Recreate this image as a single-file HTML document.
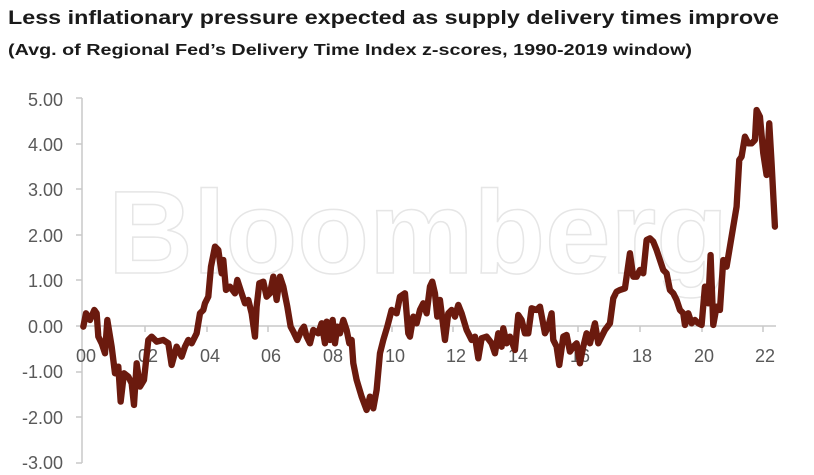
<!DOCTYPE html>
<html><head><meta charset="utf-8"><style>
body{margin:0;background:#fff;width:814px;height:475px;overflow:hidden}
svg{display:block}
text{font-family:"Liberation Sans",sans-serif}
</style></head><body>
<svg width="814" height="475" viewBox="0 0 814 475">
<text x="8" y="24" font-size="19" font-weight="bold" fill="#1a1a1a" textLength="771" lengthAdjust="spacingAndGlyphs">Less inflationary pressure expected as supply delivery times improve</text>
<text x="8" y="55" font-size="16" font-weight="bold" fill="#1a1a1a" textLength="684" lengthAdjust="spacingAndGlyphs">(Avg. of Regional Fed’s Delivery Time Index z-scores, 1990-2019 window)</text>
<text x="108" y="273" font-size="118" font-weight="bold" fill="#fff" stroke="#e6e6e6" stroke-width="1.5" textLength="620" lengthAdjust="spacingAndGlyphs">Bloomberg</text>
<g fill="#595959" font-size="18" text-anchor="end">
<text x="63" y="106">5.00</text><text x="63" y="151">4.00</text><text x="63" y="196">3.00</text><text x="63" y="242">2.00</text><text x="63" y="287">1.00</text><text x="63" y="333">0.00</text><text x="63" y="378">-1.00</text><text x="63" y="424">-2.00</text><text x="63" y="469">-3.00</text>
</g>
<g stroke="#c8c8c8" stroke-width="1.5">
<line x1="82" y1="98" x2="82" y2="463"/>
<line x1="76" y1="98" x2="82" y2="98"/><line x1="76" y1="144" x2="82" y2="144"/><line x1="76" y1="189" x2="82" y2="189"/><line x1="76" y1="235" x2="82" y2="235"/><line x1="76" y1="280" x2="82" y2="280"/><line x1="76" y1="326" x2="82" y2="326"/><line x1="76" y1="372" x2="82" y2="372"/><line x1="76" y1="417" x2="82" y2="417"/><line x1="76" y1="463" x2="82" y2="463"/>
<line x1="82" y1="326" x2="776" y2="326"/>
<line x1="145" y1="326" x2="145" y2="332"/><line x1="207" y1="326" x2="207" y2="332"/><line x1="268" y1="326" x2="268" y2="332"/><line x1="330" y1="326" x2="330" y2="332"/><line x1="392" y1="326" x2="392" y2="332"/><line x1="453" y1="326" x2="453" y2="332"/><line x1="515" y1="326" x2="515" y2="332"/><line x1="578" y1="326" x2="578" y2="332"/><line x1="640" y1="326" x2="640" y2="332"/><line x1="702" y1="326" x2="702" y2="332"/><line x1="763" y1="326" x2="763" y2="332"/>
</g>
<g fill="#595959" font-size="18" text-anchor="middle">
<text x="86" y="362">00</text><text x="148" y="362">02</text><text x="210" y="362">04</text><text x="271" y="362">06</text><text x="333" y="362">08</text><text x="395" y="362">10</text><text x="456" y="362">12</text><text x="518" y="362">14</text><text x="580" y="362">16</text><text x="642" y="362">18</text><text x="704" y="362">20</text><text x="765" y="362">22</text>
</g>
<g transform="translate(0,80) scale(0.3333)">
<polyline fill="none" stroke="#6b1a0e" stroke-width="19" stroke-linejoin="round" stroke-linecap="round" points="
250,740 258,700 270,720 283,690 290,700 295,770 305,790 315,820 322,720 335,800 345,880 355,860 362,965 372,880 385,890 395,910 402,975 410,850 420,920 432,900 445,780 455,770 470,785 490,780 505,790 515,855 530,800 545,830 555,800 565,780 575,790 590,760 600,700 610,690 615,670 625,650 633,560 645,500 655,510 665,580 670,540 678,630 690,620 705,640 712,600 725,640 735,670 745,660 755,700 765,770 770,680 778,610 790,605 800,650 810,640 820,590 830,660 840,590 850,620 862,680 872,740 880,755 892,780 905,750 912,740 920,770 930,790 940,750 955,760 965,730 975,790 980,725 990,780 998,720 1005,790 1012,740 1020,760 1030,720 1040,750 1048,790 1055,780 1060,850 1070,900 1085,950 1100,990 1110,950 1120,985 1130,930 1140,820 1150,780 1162,740 1175,690 1190,700 1200,650 1215,640 1225,760
1230,770 1240,710 1250,730 1260,690 1270,670 1280,700 1290,620 1297,605 1305,640 1312,710 1320,660 1325,700 1335,780 1345,700 1355,690 1365,710 1375,675 1385,700 1400,750 1415,780 1425,770 1435,835 1445,775 1460,770 1475,790 1485,820 1495,760 1505,800 1510,745 1520,790 1530,770 1545,810 1555,705 1565,720 1575,760 1585,760 1595,685 1610,690 1620,680 1635,760 1645,740 1655,700 1660,780 1670,800 1678,855 1690,770 1700,765 1710,815 1720,800 1730,790 1740,850 1750,800 1760,760 1770,790 1785,730 1795,790 1805,770 1815,750 1830,730 1840,655 1850,635 1860,630 1875,625 1890,520 1900,590 1910,590 1920,570 1930,580 1940,480 1950,475 1960,485 1970,510 1980,540 1990,570 2000,580 2010,630 2020,640 2030,660 2040,690 2050,700 2055,735 2065,700 2075,730 2085,720 2095,730 2105,735 2115,620 2125,670 2132,525 2140,735 2150,680 2160,690 2170,540 2180,560 2190,500 2200,440 2210,380 2218,240 2225,230 2235,170 2245,190 2255,190 2265,180 2270,90 2280,110 2290,220 2300,285 2308,130 2315,250 2325,440"/>
</g>
</svg>
</body></html>
